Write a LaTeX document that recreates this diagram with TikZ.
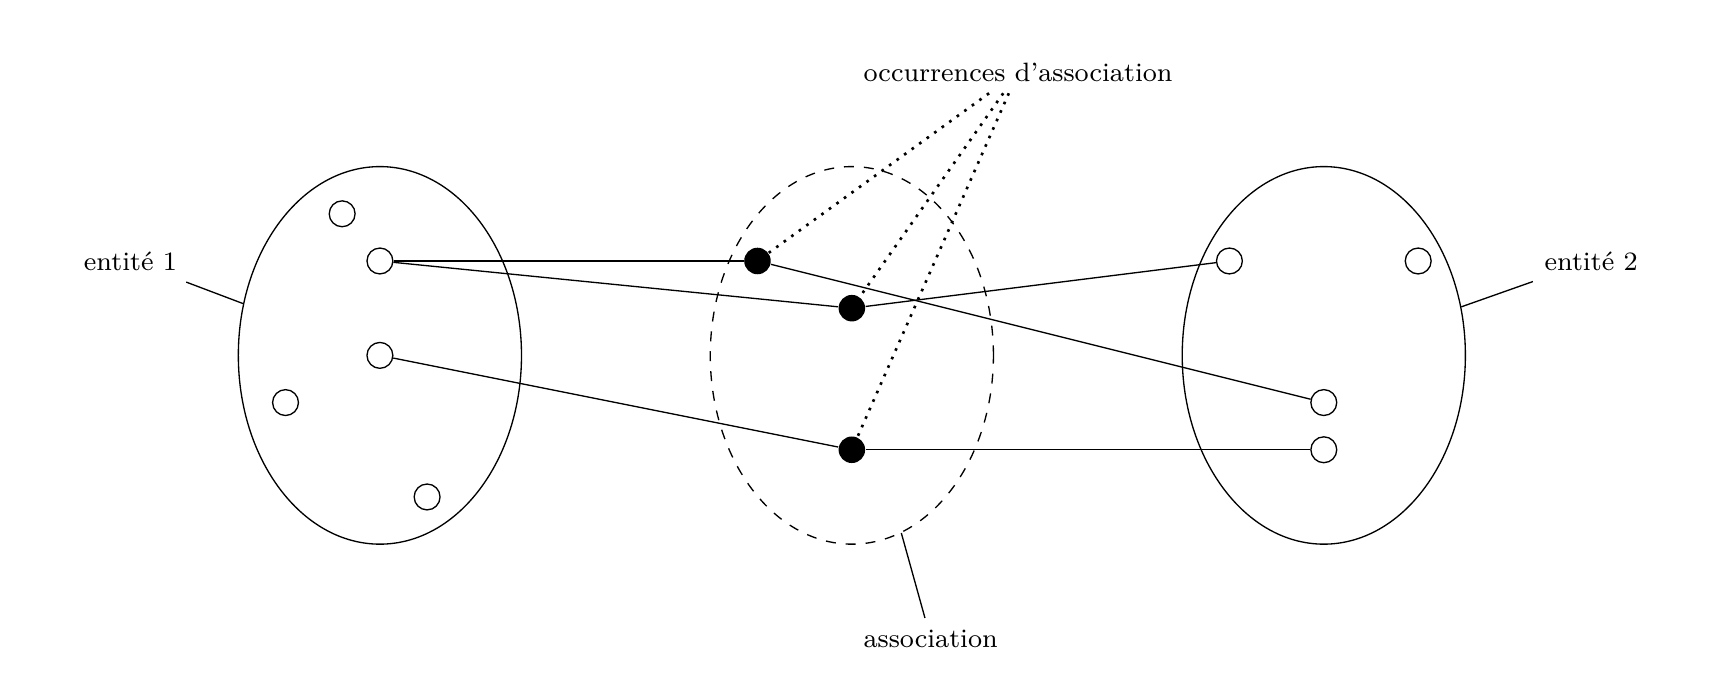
\documentclass[tikz,border=0pt]{standalone}
\usetikzlibrary{shapes.geometric}
\begin{document}
\begin{tikzpicture}[x=0.5cm,y=0.5cm,
  ent/.style={ellipse,draw,minimum width=3cm,minimum height=4cm,inner sep=0pt},
  assocset/.style={ent,dashed},
  occw/.style={circle,draw,inner sep=0pt,minimum size=7.8pt},
  occb/.style={circle,fill,inner sep=0pt,minimum size=8pt},
  lab/.style={font=\footnotesize},
  occline/.style={thick,dotted}]
\useasboundingbox (-8.05,-7.13) rectangle (28.31,7.53);
% sets
\node[ent] (e1) at (0,0) {};
\node[assocset] (a) at (10,0) {};
\node[ent] (e2) at (20,0) {};
% occurrences of entity 1
\node[occw] (p1) at (-0.8,3) {};
\node[occw] (p2) at (0,2) {};
\node[occw] (p3) at (0,0) {};
\node[occw] (p4) at (-2,-1) {};
\node[occw] (p5) at (1,-3) {};
% occurrences of entity 2
\node[occw] (q1) at (18,2) {};
\node[occw] (q2) at (22,2) {};
\node[occw] (q3) at (20,-1) {};
\node[occw] (q4) at (20,-2) {};
% association occurrences
\node[occb] (d1) at (8,2) {};
\node[occb] (d2) at (10,1) {};
\node[occb] (d3) at (10,-2) {};
% links
\draw (p2) -- (d1);
\draw (p2) -- (d2);
\draw (p3) -- (d3);
\draw (d1) -- (q3);
\draw (d2) -- (q1);
\draw (d3) -- (q4);
% labels
\node[lab,anchor=east] (l1) at (-4.05,2) {entité 1};
\node[lab,anchor=west] (l2) at (24.43,2) {entité 2};
\node[lab,anchor=west] (lo) at (10,6) {occurrences d'association};
\node[lab,anchor=west] (la) at (10,-6) {association};
\draw (l1) -- (e1);
\draw (l2) -- (e2);
\draw (la) -- (a);
\draw[occline] (lo) -- (d1);
\draw[occline] (lo) -- (d2);
\draw[occline] (lo) -- (d3);
\end{tikzpicture}
\end{document}
